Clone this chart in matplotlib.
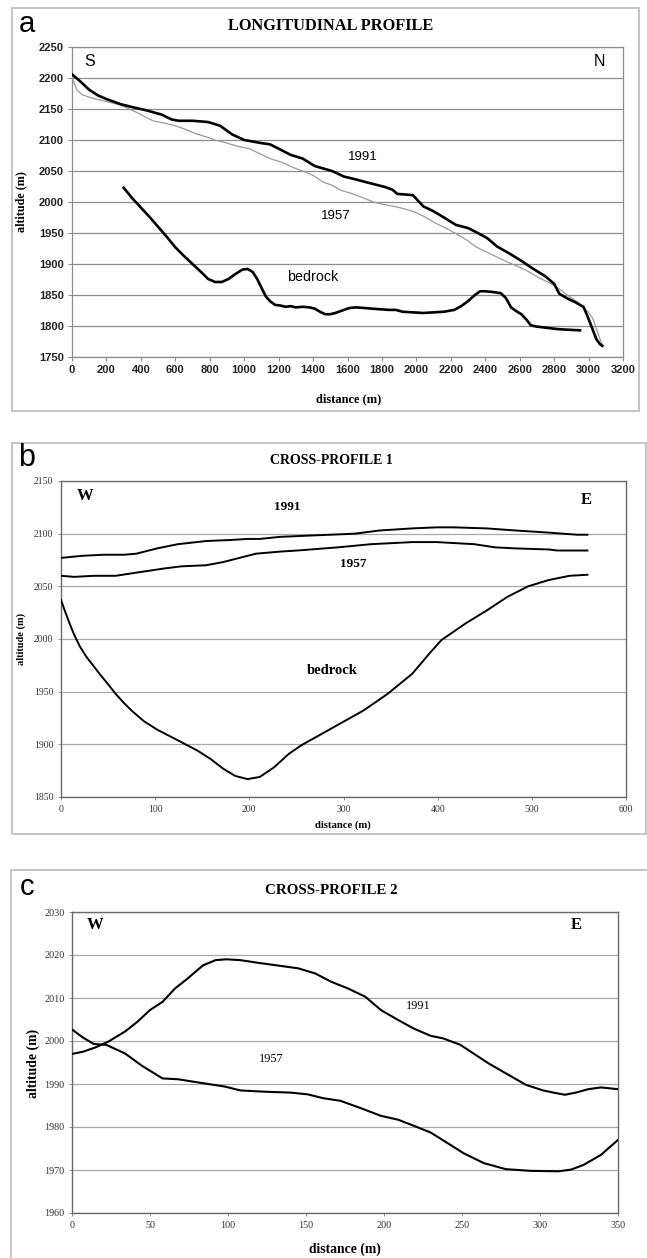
import matplotlib
matplotlib.use("Agg")
import matplotlib.pyplot as plt
from matplotlib.patches import Rectangle
import numpy as np

# ---------------- DATA ----------------
# Panel a: longitudinal profile
a_1991_x = [0, 50, 100, 150, 200, 280, 350, 430, 520, 580, 620, 700, 790, 860, 930, 1000,
            1060, 1100, 1150, 1200, 1270, 1340, 1410, 1460, 1510, 1580, 1640, 1680, 1750,
            1820, 1860, 1890, 1940, 1980, 2000, 2040, 2100, 2160, 2230, 2300, 2350, 2410,
            2470, 2540, 2610, 2680, 2750, 2800, 2830, 2880, 2925, 2970, 2995, 3020, 3045,
            3065, 3080]
a_1991_y = [2206, 2194, 2181, 2172, 2166, 2158, 2153, 2148, 2141, 2133, 2131, 2131, 2129,
            2123, 2109, 2100, 2097, 2095, 2093, 2086, 2076, 2070, 2058, 2054, 2050, 2041,
            2037, 2034, 2029, 2024, 2020, 2013, 2012, 2011, 2005, 1993, 1985, 1975, 1963,
            1958, 1951, 1942, 1928, 1917, 1905, 1892, 1880, 1868, 1852, 1844, 1838, 1831,
            1815, 1797, 1779, 1771, 1768]

a_1957_x = [0, 15, 30, 60, 100, 140, 200, 260, 310, 380, 470, 540, 600, 660, 720, 780,
            830, 900, 960, 1030, 1090, 1150, 1220, 1280, 1340, 1400, 1460, 1510, 1560,
            1620, 1680, 1750, 1810, 1870, 1930, 1990, 2050, 2110, 2170, 2230, 2290, 2350,
            2410, 2470, 2530, 2590, 2650, 2710, 2770, 2830, 2880, 2930, 2970, 3000, 3025,
            3045, 3065, 3080]
a_1957_y = [2202, 2190, 2180, 2173, 2169, 2166, 2162, 2158, 2153, 2144, 2131, 2127, 2123,
            2117, 2110, 2105, 2100, 2095, 2090, 2086, 2078, 2070, 2064, 2056, 2050, 2043,
            2032, 2027, 2019, 2014, 2008, 2000, 1996, 1993, 1989, 1984, 1976, 1966, 1958,
            1949, 1939, 1927, 1919, 1911, 1903, 1896, 1888, 1878, 1870, 1860, 1849, 1840,
            1830, 1822, 1812, 1796, 1780, 1769]

a_bed_x = [300, 350, 400, 450, 500, 550, 600, 650, 700, 750, 790, 830, 870, 910, 950, 990,
           1020, 1050, 1075, 1100, 1125, 1150, 1180, 1210, 1240, 1270, 1300, 1340, 1380,
           1410, 1440, 1470, 1500, 1530, 1570, 1610, 1650, 1700, 1740, 1790, 1840, 1880,
           1920, 1980, 2040, 2100, 2160, 2220, 2260, 2300, 2340, 2370, 2400, 2440, 2490,
           2520, 2550, 2580, 2610, 2640, 2665, 2700, 2760, 2820, 2880, 2950]
a_bed_y = [2023, 2006, 1991, 1976, 1960, 1944, 1927, 1913, 1900, 1887, 1876, 1871, 1871,
           1876, 1884, 1891, 1892, 1887, 1876, 1862, 1848, 1840, 1834, 1833, 1831, 1832,
           1830, 1831, 1830, 1828, 1823, 1819, 1819, 1821, 1825, 1829, 1830, 1829, 1828,
           1827, 1826, 1826, 1823, 1822, 1821, 1822, 1823, 1826, 1832, 1840, 1850, 1856,
           1856, 1855, 1853, 1845, 1830, 1824, 1819, 1810, 1801, 1799, 1797, 1795, 1794,
           1793]

# Panel b: cross-profile 1
b_1991_x = [0, 23, 45, 67, 80, 102, 124, 154, 180, 198, 211, 233, 259, 286, 312, 338, 373,
            399, 417, 452, 483, 518, 548, 559]
b_1991_y = [2077, 2079, 2080, 2080, 2081, 2086, 2090, 2093, 2094, 2095, 2095, 2097, 2098,
            2099, 2100, 2103, 2105, 2106, 2106, 2105, 2103, 2101, 2099, 2099]
b_1957_x = [0, 14, 35, 58, 80, 110, 128, 154, 172, 207, 233, 251, 294, 329, 373, 399, 439,
            461, 483, 518, 527, 545, 559]
b_1957_y = [2060, 2059, 2060, 2060, 2063, 2067, 2069, 2070, 2073, 2081, 2083, 2084, 2087,
            2090, 2092, 2092, 2090, 2087, 2086, 2085, 2084, 2084, 2084]
b_bed_x = [0, 4, 9, 14, 20, 27, 34, 40, 50, 58, 66, 75, 88, 102, 115, 128, 145, 159, 172,
           185, 198, 211, 226, 242, 255, 277, 299, 321, 347, 373, 391, 404, 430, 452, 474,
           496, 518, 540, 559]
b_bed_y = [2037, 2027, 2015, 2004, 1993, 1983, 1975, 1968, 1957, 1948, 1940, 1932, 1922,
           1914, 1908, 1902, 1894, 1886, 1877, 1870, 1867, 1869, 1878, 1891, 1899, 1910,
           1921, 1932, 1948, 1967, 1986, 1999, 2015, 2027, 2040, 2050, 2056, 2060, 2061]

# Panel c: cross-profile 2
c_1991_x = [0, 7, 15, 23, 34, 42, 50, 58, 66, 74, 84, 92, 99, 108, 119, 135, 145, 156, 166,
            177, 188, 198, 209, 219, 230, 238, 249, 259, 267, 278, 291, 302, 310, 316, 323,
            331, 339, 350]
c_1991_y = [1997.0, 1997.5, 1998.5, 1999.8, 2002.2, 2004.5, 2007.2, 2009.1, 2012.2, 2014.5,
            2017.6, 2018.8, 2019.0, 2018.8, 2018.2, 2017.4, 2016.9, 2015.7, 2013.8, 2012.2,
            2010.3, 2007.2, 2004.9, 2002.9, 2001.2, 2000.6, 1999.1, 1996.7, 1994.8, 1992.5,
            1989.8, 1988.5, 1987.9, 1987.5, 1988.0, 1988.8, 1989.2, 1988.8]
c_1957_x = [0, 7, 14, 22, 34, 45, 58, 68, 82, 98, 108, 124, 140, 151, 161, 172, 185, 198,
            209, 219, 230, 241, 251, 264, 278, 294, 312, 320, 328, 339, 350]
c_1957_y = [2002.7, 2000.8, 1999.3, 1999.1, 1997.1, 1994.2, 1991.3, 1991.1, 1990.3, 1989.4,
            1988.5, 1988.2, 1988.0, 1987.6, 1986.7, 1986.1, 1984.4, 1982.6, 1981.7, 1980.3,
            1978.7, 1976.2, 1973.9, 1971.6, 1970.2, 1969.8, 1969.7, 1970.1, 1971.2, 1973.5,
            1977.0]

a_xticks = list(range(0, 3201, 200))
a_yticks = list(range(1750, 2251, 50))
b_xticks = list(range(0, 601, 100))
b_yticks = list(range(1850, 2151, 50))
c_xticks = list(range(0, 351, 50))
c_yticks = list(range(1960, 2031, 10))

titles = ["LONGITUDINAL PROFILE", "CROSS-PROFILE 1", "CROSS-PROFILE 2"]
letters = ["a", "b", "c"]

# ---------------- FIGURE ----------------
W, H = 647, 1258
fig = plt.figure(figsize=(W / 100, H / 100), dpi=100)
fig.patch.set_facecolor("white")

def fx(px):
    return px / W

def fy(py):
    return 1 - py / H

def axes_px(l, t, r, b):
    return fig.add_axes([fx(l), fy(b), fx(r) - fx(l), fy(t) - fy(b)])

SANS = ["Liberation Sans", "DejaVu Sans"]
NARROW = ["Liberation Sans Narrow", "Liberation Sans", "DejaVu Sans"]
SERIF = ["Liberation Serif", "DejaVu Serif"]

# outer frames
for (l, t, r, b) in [(12, 8, 639, 411), (12, 443, 646, 834), (11, 870, 660, 1270)]:
    fig.patches.append(Rectangle((fx(l), fy(b)), fx(r) - fx(l), fy(t) - fy(b),
                                 transform=fig.transFigure, fill=False,
                                 edgecolor="#c4c4c4", linewidth=1.4, zorder=0))

# ---------- panel a ----------
ax = axes_px(72, 47, 623, 357)
ax.plot(a_1957_x, a_1957_y, color="#9a9a9a", lw=0.9, zorder=3)
ax.plot(a_1991_x, a_1991_y, color="black", lw=1.9, zorder=4)
ax.plot(a_bed_x, a_bed_y, color="black", lw=1.9, zorder=4)
ax.set_xlim(0, 3200)
ax.set_ylim(1750, 2250)
ax.set_xticks(a_xticks)
ax.set_yticks(a_yticks)
ax.yaxis.grid(True, color="#8c8c8c", lw=0.9)
ax.set_axisbelow(True)
for s in ax.spines.values():
    s.set_color("#8c8c8c")
    s.set_linewidth(0.9)
ax.tick_params(axis="both", colors="#8c8c8c", length=3, width=0.8, labelcolor="#222222",
               pad=3)
for lab in ax.get_xticklabels() + ax.get_yticklabels():
    lab.set_fontfamily(NARROW)
    lab.set_fontweight("bold")
    lab.set_fontsize(8)
ax.text(1690, 2072, "1991", family=SANS, fontsize=9.5, ha="center", va="center")
ax.text(1530, 1977, "1957", family=SANS, fontsize=9.5, ha="center", va="center")
ax.text(1400, 1879, "bedrock", family=SANS, fontsize=10.3, ha="center", va="center")
ax.text(105, 2227, "S", family=SANS, fontsize=11.5, ha="center", va="center")
ax.text(3065, 2227, "N", family=SANS, fontsize=11.5, ha="center", va="center")
fig.text(fx(331), fy(26), titles[0], family=SERIF, fontweight="bold", fontsize=11.8,
         ha="center", va="center")
fig.text(fx(27), fy(24), letters[0], family=SANS, fontsize=21, ha="center", va="center")
fig.text(fx(21), fy(202), "altitude (m)", family=SERIF, fontweight="bold", fontsize=8.7,
         rotation=90, ha="center", va="center")
fig.text(fx(349), fy(399), "distance (m)", family=SERIF, fontweight="bold", fontsize=9,
         ha="center", va="center")

# ---------- panel b ----------
ax = axes_px(61, 481, 626, 797)
ax.plot(b_1991_x, b_1991_y, color="black", lw=1.4, zorder=4)
ax.plot(b_1957_x, b_1957_y, color="black", lw=1.4, zorder=4)
ax.plot(b_bed_x, b_bed_y, color="black", lw=1.4, zorder=4)
ax.set_xlim(0, 600)
ax.set_ylim(1850, 2150)
ax.set_xticks(b_xticks)
ax.set_yticks(b_yticks)
ax.yaxis.grid(True, color="#a8a8a8", lw=0.9)
ax.set_axisbelow(True)
for s in ax.spines.values():
    s.set_color("#6a6a6a")
    s.set_linewidth(1.0)
ax.tick_params(axis="both", colors="#8c8c8c", length=2.5, width=0.7, labelcolor="#333333",
               pad=3)
for lab in ax.get_xticklabels() + ax.get_yticklabels():
    lab.set_fontfamily(SERIF)
    lab.set_fontsize(7)
ax.text(240, 2125, "1991", family=SERIF, fontweight="bold", fontsize=9.5, ha="center",
        va="center")
ax.text(310, 2071, "1957", family=SERIF, fontweight="bold", fontsize=9.5, ha="center",
        va="center")
ax.text(288, 1970, "bedrock", family=SERIF, fontweight="bold", fontsize=10.5, ha="center",
        va="center")
ax.text(26, 2136, "W", family=SERIF, fontweight="bold", fontsize=12, ha="center",
        va="center")
ax.text(558, 2132, "E", family=SERIF, fontweight="bold", fontsize=12, ha="center",
        va="center")
fig.text(fx(331), fy(460), titles[1], family=SERIF, fontweight="bold", fontsize=10,
         ha="center", va="center")
fig.text(fx(27), fy(458), letters[1], family=SANS, fontsize=22, ha="center", va="center")
fig.text(fx(21), fy(639), "altitude (m)", family=SERIF, fontweight="bold", fontsize=7.5,
         rotation=90, ha="center", va="center")
fig.text(fx(343), fy(825), "distance (m)", family=SERIF, fontweight="bold", fontsize=7.7,
         ha="center", va="center")

# ---------- panel c ----------
ax = axes_px(72, 912, 618, 1213)
ax.plot(c_1991_x, c_1991_y, color="black", lw=1.5, zorder=4)
ax.plot(c_1957_x, c_1957_y, color="black", lw=1.5, zorder=4)
ax.set_xlim(0, 350)
ax.set_ylim(1960, 2030)
ax.set_xticks(c_xticks)
ax.set_yticks(c_yticks)
ax.yaxis.grid(True, color="#a8a8a8", lw=0.9)
ax.set_axisbelow(True)
for s in ax.spines.values():
    s.set_color("#6a6a6a")
    s.set_linewidth(1.0)
ax.tick_params(axis="both", colors="#8c8c8c", length=2.5, width=0.7, labelcolor="#333333",
               pad=3)
for lab in ax.get_xticklabels() + ax.get_yticklabels():
    lab.set_fontfamily(SERIF)
    lab.set_fontsize(7.3)
ax.text(222, 2008.2, "1991", family=SERIF, fontsize=8.8, ha="center", va="center")
ax.text(128, 1995.7, "1957", family=SERIF, fontsize=8.8, ha="center", va="center")
ax.text(15, 2027, "W", family=SERIF, fontweight="bold", fontsize=12, ha="center",
        va="center")
ax.text(323, 2027, "E", family=SERIF, fontweight="bold", fontsize=12, ha="center",
        va="center")
fig.text(fx(331), fy(890), titles[2], family=SERIF, fontweight="bold", fontsize=10.8,
         ha="center", va="center")
fig.text(fx(27), fy(887), letters[2], family=SANS, fontsize=21, ha="center", va="center")
fig.text(fx(33), fy(1063), "altitude (m)", family=SERIF, fontweight="bold", fontsize=9.9,
         rotation=90, ha="center", va="center")
fig.text(fx(345), fy(1249), "distance (m)", family=SERIF, fontweight="bold", fontsize=9.8,
         ha="center", va="center")

fig.savefig("out.png", dpi=100, facecolor="white")
